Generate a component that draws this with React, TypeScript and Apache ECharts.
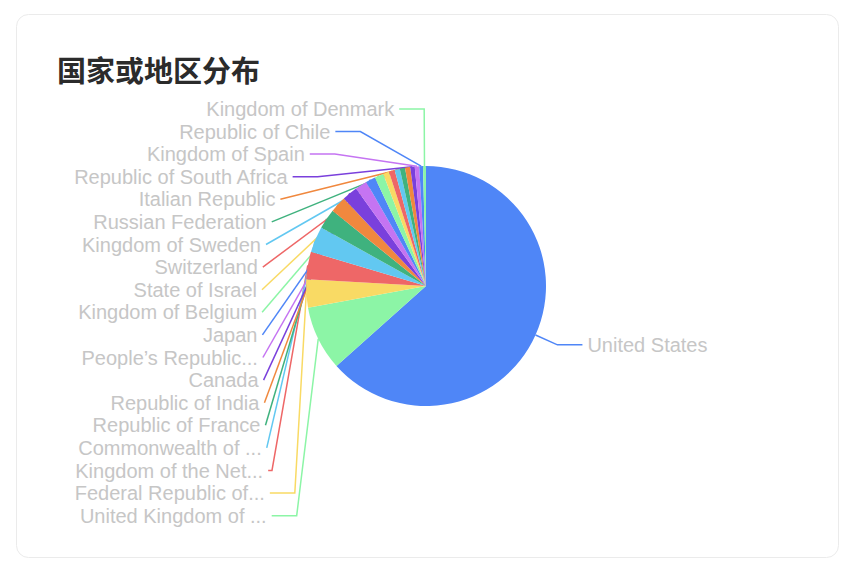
import React, { useEffect, useRef } from "react";
import * as echarts from "echarts";

const countries = [
  "United States",
  "United Kingdom of Great Britain and Northern Ireland",
  "Federal Republic of Germany",
  "Kingdom of the Netherlands",
  "Commonwealth of Australia",
  "Republic of France",
  "Republic of India",
  "Canada",
  "People’s Republic of China",
  "Japan",
  "Kingdom of Belgium",
  "State of Israel",
  "Switzerland",
  "Kingdom of Sweden",
  "Russian Federation",
  "Italian Republic",
  "Republic of South Africa",
  "Kingdom of Spain",
  "Republic of Chile",
  "Kingdom of Denmark",
];

const counts = [634, 87, 38, 37, 35, 27, 22, 21, 16, 13, 12, 8, 8, 7, 7, 7, 6, 6, 5, 4];

const palette = [
  "#4F86F7",
  "#8CF5A6",
  "#F9DA64",
  "#EE6767",
  "#62C8F1",
  "#3FB27E",
  "#F0883E",
  "#7A40DC",
  "#C574F2",
];

const titleText = "国家或地区分布";

export default function App() {
  const ref = useRef<HTMLDivElement>(null);

  useEffect(() => {
    document.body.style.margin = "0";
    if (!ref.current) return;
    const chart = echarts.init(ref.current, undefined, { renderer: "svg" });
    chart.setOption({
      animation: false,
      backgroundColor: "#ffffff",
      color: palette,
      graphic: [
        {
          type: "rect",
          z: -10,
          shape: { x: 16.5, y: 14.5, width: 822, height: 543, r: 12 },
          style: { fill: "#ffffff", stroke: "#ebebeb", lineWidth: 1 },
        },
      ],
      title: {
        text: titleText,
        left: 52,
        top: 49,
        textStyle: {
          fontSize: 29,
          fontWeight: "bold",
          color: "#2b2b2b",
          fontFamily: "Noto Sans CJK SC",
        },
      },
      series: [
        {
          type: "pie",
          left: 56,
          right: 68,
          top: 54,
          bottom: 43,
          center: [370, 232],
          radius: 120,
          startAngle: 90,
          clockwise: true,
          data: countries.map((name, i) => ({ name, value: counts[i] })),
          label: {
            color: "#c6c6c6",
            fontSize: 20,
            fontFamily: "Liberation Sans",
            lineHeight: 20.6,
          },
          labelLine: {
            length: 24,
            length2: 25,
            lineStyle: { width: 1.5 },
          },
          emphasis: { disabled: true },
        },
      ],
    });
    return () => chart.dispose();
  }, []);

  return <div ref={ref} style={{ width: 864, height: 570 }} />;
}
